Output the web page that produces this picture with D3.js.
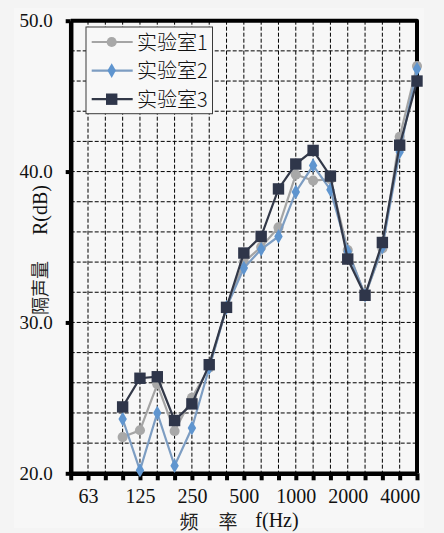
<!DOCTYPE html>
<html>
<head>
<meta charset="utf-8">
<script src="https://cdn.jsdelivr.net/npm/d3@7"></script>
<style>
  body { margin: 0; background: #f4f4f4; }
  svg { display: block; }
  .serif { font-family: "Liberation Serif", "Times New Roman", "DejaVu Serif", serif; }
  .cjk { font-family: "Noto Sans CJK SC", sans-serif; font-weight: 300; }
  .cjk-title { font-family: "Noto Sans CJK SC", sans-serif; font-weight: 400; }
</style>
</head>
<body>
<script>
// third-octave bands along the x axis (evenly spaced)
const bands = ["50", "63", "80", "100", "125", "160", "200", "250", "315", "400",
  "500", "630", "800", "1000", "1250", "1600", "2000", "2500", "3150", "4000", "5000"];
const labelledBands = ["63", "125", "250", "500", "1000", "2000", "4000"];
const dataBands = ["100", "125", "160", "200", "250", "315", "400", "500", "630",
  "800", "1000", "1250", "1600", "2000", "2500", "3150", "4000", "5000"];

const lab1 = [22.4, 22.85, 25.9, 22.8, 25.0, 27.0, 31.0, 34.0, 35.0, 36.3, 39.8,
  39.4, 39.5, 34.8, 31.8, 34.9, 42.3, 47.0];
const lab2 = [23.6, 20.2, 24.0, 20.5, 23.0, 27.0, 31.0, 33.6, 34.85, 35.7, 38.65,
  40.4, 38.8, 34.7, 31.8, 35.0, 41.3, 46.8];
const lab3 = [24.4, 26.3, 26.4, 23.5, 24.6, 27.2, 31.0, 34.6, 35.7, 38.85, 40.5,
  41.4, 39.7, 34.2, 31.8, 35.3, 41.75, 46.0];

const seriesNames = ["实验室1", "实验室2", "实验室3"];
const yTicks = [20, 30, 40, 50];
const yGrid = [22, 24, 26, 28, 30, 32, 34, 36, 38, 40, 42, 44, 46, 48];

const width = 444;
const height = 533;
const plotLeft = 70.7, plotRight = 417, plotTop = 20.7, plotBottom = 473.3;

const xScale = d3.scalePoint().domain(bands).range([plotLeft, plotRight]);
const yScale = d3.scaleLinear().domain([20, 50]).range([plotBottom, plotTop]);

const series = [
  { name: seriesNames[0], values: lab1, line: "#a5a5a5", fill: "#a8a8a8", shape: d3.symbolCircle, size: 80 },
  { name: seriesNames[1], values: lab2, line: "#7d9dc2", fill: "#5f95cf", shape: d3.symbolDiamond, size: 62 },
  { name: seriesNames[2], values: lab3, line: "#323848", fill: "#2f364a", shape: d3.symbolSquare, size: 130 },
];

const svg = d3.select("body").append("svg")
  .attr("width", width)
  .attr("height", height);

svg.append("rect")
  .attr("x", 14).attr("y", 8)
  .attr("width", 410).attr("height", 520)
  .attr("fill", "#f7f7f7");

// grid
const grid = svg.append("g")
  .attr("stroke", "#000")
  .attr("stroke-width", 1)
  .attr("stroke-dasharray", "4,2");

grid.selectAll(".vgrid")
  .data(bands.slice(1, -1))
  .join("line")
  .attr("class", "vgrid")
  .attr("x1", (d) => xScale(d))
  .attr("x2", (d) => xScale(d))
  .attr("y1", plotTop)
  .attr("y2", plotBottom);

grid.selectAll(".hgrid")
  .data(yGrid)
  .join("line")
  .attr("class", "hgrid")
  .attr("x1", plotLeft)
  .attr("x2", plotRight)
  .attr("y1", (d) => yScale(d))
  .attr("y2", (d) => yScale(d));

// top and right frame
svg.append("path")
  .attr("d", `M${plotLeft},${plotTop}H${plotRight}V${plotBottom}`)
  .attr("fill", "none")
  .attr("stroke", "#000")
  .attr("stroke-width", 4)
  .attr("stroke-linejoin", "round");

// axes
const xAxis = d3.axisBottom(xScale)
  .tickValues(bands)
  .tickFormat((d) => (labelledBands.includes(d) ? d : ""))
  .tickSize(7)
  .tickSizeOuter(0)
  .tickPadding(9);

const yAxis = d3.axisLeft(yScale)
  .tickValues(yTicks)
  .tickFormat(d3.format(".1f"))
  .tickSize(5)
  .tickSizeOuter(0)
  .tickPadding(13);

const gx = svg.append("g")
  .attr("transform", `translate(0 ${plotBottom})`)
  .call(xAxis);

const gy = svg.append("g")
  .attr("transform", `translate(${plotLeft} 0)`)
  .call(yAxis);

[gx, gy].forEach((g) => {
  g.attr("font-family", null);
  g.select(".domain").attr("stroke", "#000").attr("stroke-width", 4.5);
  g.selectAll(".tick line").attr("stroke", "#000").attr("stroke-width", 4);
  g.selectAll("text")
    .attr("class", "serif")
    .attr("fill", "#111");
});
gx.selectAll("text").attr("font-size", 20);
gy.selectAll("text").attr("font-size", 19);

// lines and markers
const line = d3.line()
  .x((d, i) => xScale(dataBands[i]))
  .y((d) => yScale(d));

series.forEach((s) => {
  const g = svg.append("g");
  g.append("path")
    .datum(s.values)
    .attr("d", line)
    .attr("fill", "none")
    .attr("stroke", s.line)
    .attr("stroke-width", 2.2);

  g.selectAll("path.mark")
    .data(s.values)
    .join("path")
    .attr("class", "mark")
    .attr("transform", (d, i) => `translate(${xScale(dataBands[i])} ${yScale(d)})`)
    .attr("d", d3.symbol(s.shape, s.size))
    .attr("fill", s.fill);
});

// legend
const legend = svg.append("g").attr("transform", "translate(86 27)");
legend.append("rect")
  .attr("width", 126.5)
  .attr("height", 86.7)
  .attr("fill", "#f8f8f8")
  .attr("stroke", "#3a3a3a")
  .attr("stroke-width", 1);

const rows = legend.selectAll("g.row")
  .data(series)
  .join("g")
  .attr("class", "row")
  .attr("transform", (d, i) => `translate(0 ${15 + i * 28.6})`);

rows.append("line")
  .attr("x1", 5.7).attr("x2", 46.7)
  .attr("stroke", (d) => d.line)
  .attr("stroke-width", 2.2);

rows.append("path")
  .attr("transform", "translate(25.7 0)")
  .attr("d", (d) => d3.symbol(d.shape, d.size)())
  .attr("fill", (d) => d.fill);

rows.append("text")
  .attr("class", "cjk")
  .attr("x", 51)
  .attr("y", 7.5)
  .attr("font-size", 20)
  .attr("fill", "#111")
  .text((d) => d.name);

// axis titles
svg.append("text")
  .attr("class", "cjk-title")
  .attr("transform", "translate(47 288) rotate(-90)")
  .attr("text-anchor", "middle")
  .attr("font-size", 18)
  .attr("fill", "#222")
  .text("隔声量");
svg.append("text")
  .attr("class", "serif")
  .attr("transform", "translate(47 210) rotate(-90)")
  .attr("text-anchor", "middle")
  .attr("font-size", 20)
  .attr("fill", "#111")
  .text("R(dB)");

svg.append("text")
  .attr("class", "cjk-title")
  .attr("x", 189).attr("y", 529)
  .attr("text-anchor", "middle")
  .attr("font-size", 19)
  .attr("fill", "#222")
  .text("频");
svg.append("text")
  .attr("class", "cjk-title")
  .attr("x", 228).attr("y", 529)
  .attr("text-anchor", "middle")
  .attr("font-size", 19)
  .attr("fill", "#222")
  .text("率");
svg.append("text")
  .attr("class", "serif")
  .attr("x", 277).attr("y", 527)
  .attr("text-anchor", "middle")
  .attr("font-size", 20)
  .attr("fill", "#111")
  .text("f(Hz)");
</script>
</body>
</html>
